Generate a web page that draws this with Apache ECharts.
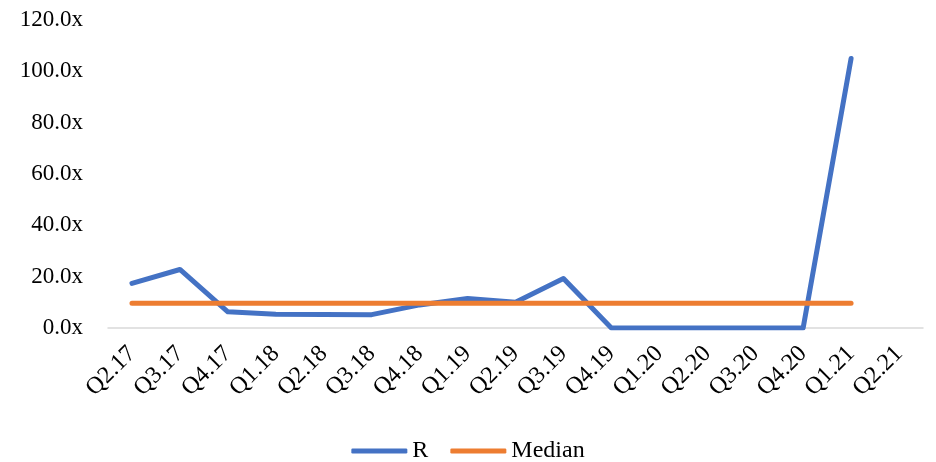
<!DOCTYPE html>
<html><head><meta charset="utf-8">
<script src="https://cdn.jsdelivr.net/npm/echarts@6/dist/echarts.min.js"></script>
<style>html,body{margin:0;padding:0;background:#fff}#c{width:936px;height:462px}</style>
</head><body><div id="c"></div>
<script>
const categories = ['Q2.17','Q3.17','Q4.17','Q1.18','Q2.18','Q3.18','Q4.18','Q1.19','Q2.19','Q3.19','Q4.19','Q1.20','Q2.20','Q3.20','Q4.20','Q1.21','Q2.21'];
const rValues = [17.4, 22.8, 6.3, 5.4, 5.3, 5.2, 9.0, 11.5, 10.0, 19.3, 0, 0, 0, 0, 0, 105.0, null];
const medianValues = [9.6, 9.6, 9.6, 9.6, 9.6, 9.6, 9.6, 9.6, 9.6, 9.6, 9.6, 9.6, 9.6, 9.6, 9.6, 9.6, null];
const yTicks = { min: 0, max: 120, interval: 20 };

const font = 'Liberation Serif';
const fs = 23;
const chart = echarts.init(document.getElementById('c'));
chart.setOption({
  animation: false,
  textStyle: { fontFamily: font },
  grid: { left: 108, right: 13, top: 20, bottom: 134, containLabel: false },
  legend: {
    top: 439, left: 'center', padding: [0, 5], itemWidth: 56, itemHeight: 5, itemGap: 22,
    icon: 'roundRect',
    textStyle: { fontFamily: font, fontSize: 24, color: '#000' },
    data: ['R', 'Median']
  },
  xAxis: {
    type: 'category', data: categories, boundaryGap: true,
    axisLine: { lineStyle: { color: '#d9d9d9', width: 1.5 } },
    axisTick: { show: false },
    axisLabel: { rotate: 45, interval: 0, fontFamily: font, fontSize: 24, color: '#000', margin: 22 }
  },
  yAxis: {
    type: 'value', min: yTicks.min, max: yTicks.max, interval: yTicks.interval,
    axisLine: { show: false }, axisTick: { show: false }, splitLine: { show: false },
    axisLabel: { fontFamily: font, fontSize: fs, color: '#000', margin: 25,
      formatter: v => v.toFixed(1) + 'x' }
  },
  series: [
    { name: 'R', type: 'line', data: rValues, symbol: 'none', color: '#4472C4',
      lineStyle: { width: 5, color: '#4472C4', cap: 'round', join: 'round' } },
    { name: 'Median', type: 'line', data: medianValues, symbol: 'none', color: '#ED7D31',
      lineStyle: { width: 5, color: '#ED7D31', cap: 'round' } }
  ]
});
</script></body></html>
